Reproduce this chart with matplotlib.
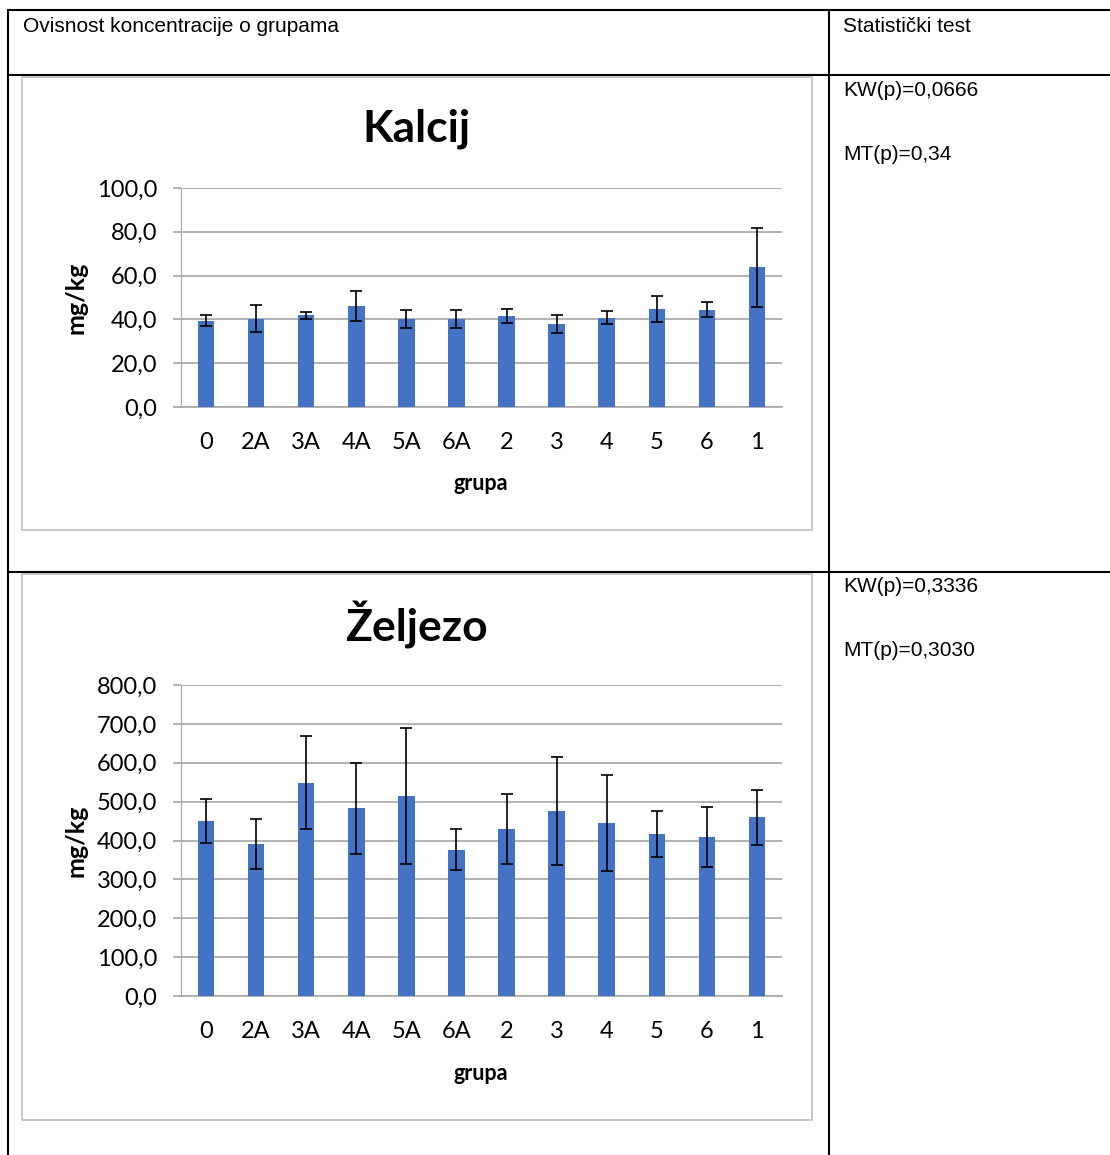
import numpy as np
import matplotlib
matplotlib.use("Agg")
import matplotlib.pyplot as plt
from matplotlib.ticker import FuncFormatter, MultipleLocator
from matplotlib.patches import Rectangle

groups = ["0", "2A", "3A", "4A", "5A", "6A", "2", "3", "4", "5", "6", "1"]

ca_mean = [39.4, 40.3, 42.0, 46.1, 40.2, 40.2, 41.7, 37.9, 40.8, 44.9, 44.4, 63.7]
ca_err = [2.4, 6.1, 1.6, 6.8, 3.9, 4.3, 3.2, 4.0, 3.1, 6.0, 3.4, 18.0]

fe_mean = [450.1, 391.1, 548.5, 483.5, 514.3, 376.5, 429.6, 475.8, 445.0, 416.7, 409.0, 459.5]
fe_err = [57.7, 64.2, 120.0, 117.0, 174.0, 52.0, 90.7, 140.0, 123.0, 59.0, 77.0, 70.0]

header_left = "Ovisnost koncentracije o grupama"
header_right = "Statistički test"
ca_tests = ["KW(p)=0,0666", "MT(p)=0,34"]
fe_tests = ["KW(p)=0,3336", "MT(p)=0,3030"]

W, H = 1110, 1155
fig = plt.figure(figsize=(W / 100, H / 100), dpi=100)

def box(x0, y0, x1, y1):
    # pixel box (top-left origin) -> figure fraction rect
    return [x0 / W, 1 - y1 / H, (x1 - x0) / W, (y1 - y0) / H]

# table grid drawn on a full-figure overlay in pixel coordinates
bg = fig.add_axes([0, 0, 1, 1])
bg.set_xlim(0, W)
bg.set_ylim(H, 0)
bg.axis("off")
lw = 1.5
bg.plot([8, W], [10, 10], color="black", lw=lw)
bg.plot([8, 8], [10, H], color="black", lw=lw)
bg.plot([829, 829], [10, H], color="black", lw=lw)
bg.plot([8, W], [75, 75], color="black", lw=lw)
bg.plot([8, W], [572, 572], color="black", lw=lw)

tfont = dict(family="Liberation Sans", fontsize=15, va="center", ha="left")
bg.text(23, 26, header_left, **tfont)
bg.text(843, 26, header_right, **tfont)
bg.text(843, 90, ca_tests[0], **tfont)
bg.text(843, 154, ca_tests[1], **tfont)
bg.text(843, 587, fe_tests[0], **tfont)
bg.text(843, 651, fe_tests[1], **tfont)

# chart frames
for y0, y1 in [(77, 530), (574, 1120)]:
    bg.add_patch(Rectangle((22, y0), 790, y1 - y0, fill=False, edgecolor="#bfbfbf", lw=1.2))

cfont = "Lato"
grid_c = "#a6a6a6"

def draw_chart(rect, means, errs, top, step, title, title_y, xlab_y):
    ax = fig.add_axes(box(*rect))
    x = np.arange(len(groups))
    ax.bar(x, means, width=0.33, color="#4472C4", zorder=3)
    ax.errorbar(x, means, yerr=errs, fmt="none", ecolor="black",
                elinewidth=1.2, capsize=4, capthick=1.2, zorder=4)
    ax.set_xlim(-0.5, len(groups) - 0.5)
    ax.set_ylim(0, top)
    ax.yaxis.set_major_locator(MultipleLocator(step))
    ax.yaxis.set_major_formatter(FuncFormatter(lambda v, p: f"{v:.1f}".replace(".", ",")))
    ax.set_xticks(x)
    ax.set_xticklabels(groups)
    ax.grid(axis="y", color=grid_c, lw=1.2, zorder=0)
    for s in ["top", "right"]:
        ax.spines[s].set_visible(False)
    ax.spines["left"].set_color(grid_c)
    ax.spines["bottom"].set_color(grid_c)
    ax.spines["bottom"].set_linewidth(1.2)
    ax.tick_params(axis="y", length=6, color=grid_c, width=1.2, pad=11)
    ax.tick_params(axis="x", length=0, pad=18)
    for lab in ax.get_xticklabels() + ax.get_yticklabels():
        lab.set_fontfamily(cfont)
        lab.set_fontsize(17)
    y_mid = (rect[1] + rect[3]) / 2
    bg.text(76, y_mid, "mg/kg", fontfamily=cfont, fontsize=18, fontweight="bold",
            rotation=90, ha="center", va="center")
    bg.text(416, title_y, title, fontfamily=cfont, fontsize=32, fontweight="bold",
            ha="center", va="center")
    bg.text(481, xlab_y, "grupa", fontfamily=cfont, fontsize=15.5, fontweight="bold",
            ha="center", va="center")
    return ax

draw_chart((181, 188, 782, 407), ca_mean, ca_err, 100, 20, "Kalcij", 129, 483)
draw_chart((181, 685, 782, 996), fe_mean, fe_err, 800, 100, "Željezo", 625, 1073)

fig.savefig("out.png", dpi=100)
